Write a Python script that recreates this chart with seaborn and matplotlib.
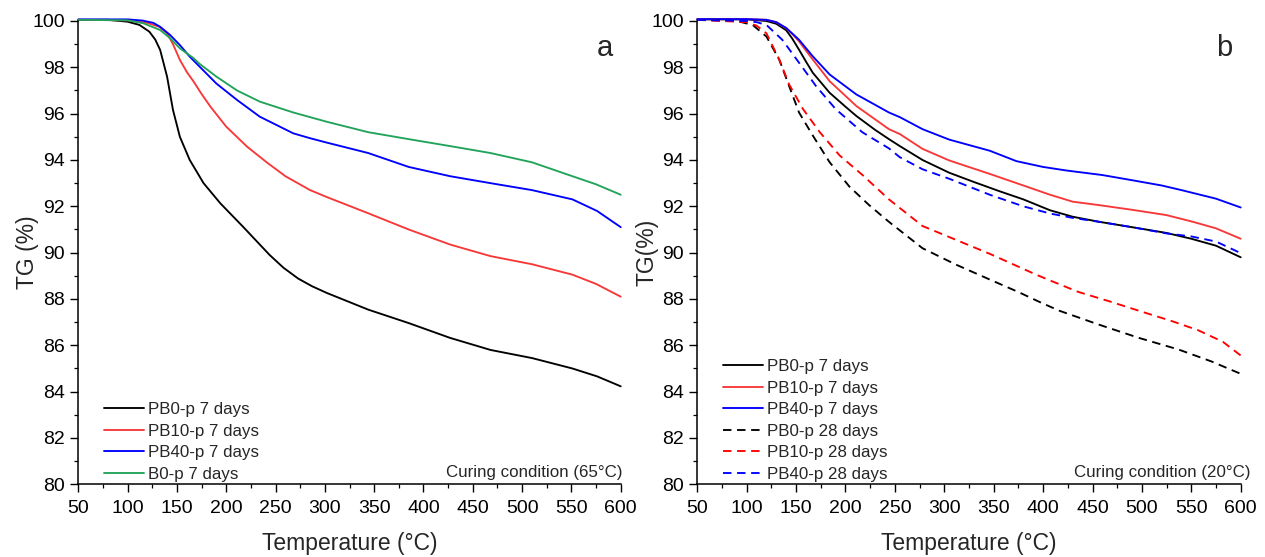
import numpy as np
import pandas as pd
import matplotlib
matplotlib.use("Agg")
import matplotlib.pyplot as plt
from matplotlib.ticker import MultipleLocator, AutoMinorLocator
import seaborn as sns

# ---------------- data: panel a (65 C curing) ----------------
a_pb0_T = [50, 80, 100, 112, 122, 128, 133, 140, 146, 153, 163, 177, 194, 217, 244, 258, 273, 287, 302, 344, 385, 427, 468, 510, 551, 576, 600]
a_pb0_v = [100.05, 100.05, 99.97, 99.83, 99.54, 99.2, 98.75, 97.6, 96.16, 95.0, 94.0, 93.0, 92.13, 91.12, 89.9, 89.35, 88.88, 88.55, 88.26, 87.54, 86.96, 86.32, 85.8, 85.45, 85.0, 84.66, 84.23]

a_pb10_T = [50, 100, 120, 132, 140, 146, 153, 160, 167, 175, 184, 200, 221, 241, 260, 285, 302, 344, 385, 427, 468, 510, 551, 575, 600]
a_pb10_v = [100.05, 100.03, 99.92, 99.75, 99.47, 99.0, 98.32, 97.8, 97.38, 96.85, 96.3, 95.44, 94.58, 93.9, 93.3, 92.7, 92.4, 91.7, 91.0, 90.35, 89.85, 89.5, 89.05, 88.65, 88.1]

a_pb40_T = [50, 100, 115, 126, 133, 143, 153, 163, 173, 190, 211, 234, 268, 285, 302, 344, 385, 427, 468, 510, 551, 576, 600]
a_pb40_v = [100.07, 100.07, 100.02, 99.92, 99.75, 99.4, 98.96, 98.46, 98.03, 97.3, 96.59, 95.87, 95.15, 94.94, 94.75, 94.3, 93.7, 93.3, 93.0, 92.7, 92.3, 91.8, 91.1]

a_b0_T = [50, 100, 116, 133, 143, 153, 167, 173, 190, 211, 234, 268, 285, 302, 344, 385, 427, 468, 510, 551, 575, 600]
a_b0_v = [100.05, 100.03, 99.9, 99.61, 99.26, 98.82, 98.39, 98.15, 97.6, 97.0, 96.52, 96.05, 95.85, 95.65, 95.2, 94.9, 94.6, 94.3, 93.9, 93.3, 92.95, 92.5]

# ---------------- data: panel b (20 C curing) ----------------
b_pb0_7_T = [50, 100, 120, 130, 140, 146, 153, 160, 167, 184, 200, 211, 230, 244, 255, 278, 305, 330, 356, 380, 407, 430, 457, 490, 525, 550, 575, 600]
b_pb0_7_v = [100.07, 100.07, 100.0, 99.88, 99.6, 99.25, 98.76, 98.25, 97.76, 96.9, 96.3, 95.9, 95.3, 94.9, 94.6, 94.0, 93.45, 93.05, 92.65, 92.3, 91.83, 91.55, 91.33, 91.1, 90.85, 90.6, 90.3, 89.8]

b_pb10_7_T = [50, 100, 120, 130, 140, 146, 153, 167, 184, 211, 244, 255, 278, 305, 346, 380, 407, 430, 457, 490, 525, 550, 575, 600]
b_pb10_7_v = [100.08, 100.08, 100.05, 99.95, 99.68, 99.45, 99.12, 98.33, 97.4, 96.33, 95.33, 95.12, 94.48, 93.98, 93.4, 92.9, 92.5, 92.2, 92.05, 91.85, 91.62, 91.35, 91.05, 90.6]

b_pb40_7_T = [50, 100, 120, 130, 140, 153, 167, 184, 211, 244, 255, 278, 305, 346, 373, 400, 423, 460, 491, 520, 541, 575, 600]
b_pb40_7_v = [100.08, 100.08, 100.05, 99.95, 99.7, 99.19, 98.47, 97.69, 96.83, 96.05, 95.85, 95.33, 94.88, 94.4, 93.95, 93.7, 93.55, 93.35, 93.12, 92.9, 92.69, 92.33, 91.95]

b_pb0_28_T = [50, 90, 106, 120, 133, 143, 153, 167, 184, 204, 224, 244, 278, 312, 346, 375, 396, 416, 456, 497, 537, 570, 600]
b_pb0_28_v = [100.05, 100.0, 99.83, 99.33, 98.33, 97.19, 96.05, 95.05, 93.9, 92.85, 92.05, 91.33, 90.19, 89.48, 88.84, 88.3, 87.88, 87.5, 86.9, 86.32, 85.82, 85.31, 84.77]

b_pb10_28_T = [50, 100, 110, 120, 133, 143, 157, 174, 194, 217, 244, 278, 312, 346, 393, 407, 436, 467, 500, 530, 557, 582, 600]
b_pb10_28_v = [100.05, 99.95, 99.8, 99.47, 98.33, 97.26, 96.2, 95.2, 94.2, 93.36, 92.3, 91.15, 90.55, 89.95, 89.05, 88.8, 88.3, 87.9, 87.45, 87.05, 86.65, 86.15, 85.56]

b_pb40_28_T = [50, 100, 110, 120, 136, 153, 170, 190, 217, 244, 255, 278, 305, 346, 380, 407, 430, 457, 490, 525, 550, 575, 600]
b_pb40_28_v = [100.05, 100.0, 99.95, 99.83, 99.19, 98.2, 97.2, 96.2, 95.2, 94.5, 94.12, 93.6, 93.19, 92.5, 92.0, 91.69, 91.5, 91.33, 91.1, 90.83, 90.7, 90.48, 89.98]

labels_a = ["PB0-p 7 days", "PB10-p 7 days", "PB40-p 7 days", "B0-p 7 days"]
labels_b = ["PB0-p 7 days", "PB10-p 7 days", "PB40-p 7 days",
            "PB0-p 28 days", "PB10-p 28 days", "PB40-p 28 days"]

x_ticks = list(range(50, 601, 50))
y_ticks = list(range(80, 101, 2))

# ---------------- styling ----------------
sns.set_style("ticks")
plt.rcParams["font.family"] = ["Liberation Sans", "DejaVu Sans"]

BLACK = "#000000"
RED = "#f83838"
RED_D = "#ff0000"
BLUE = "#0000ff"
GREEN = "#22a35a"
DASH = (0, (4.5, 3))
LW = 1.35

fig = plt.figure(figsize=(12.65, 5.57), dpi=100)
axA = fig.add_axes([0.0619, 0.1305, 0.4288, 0.8318])
axB = fig.add_axes([0.5512, 0.1305, 0.4296, 0.8318])

series_a = [
    (a_pb0_T, a_pb0_v, BLACK, "-"),
    (a_pb10_T, a_pb10_v, RED, "-"),
    (a_pb40_T, a_pb40_v, BLUE, "-"),
    (a_b0_T, a_b0_v, GREEN, "-"),
]
series_b = [
    (b_pb0_7_T, b_pb0_7_v, BLACK, "-"),
    (b_pb10_7_T, b_pb10_7_v, RED, "-"),
    (b_pb40_7_T, b_pb40_7_v, BLUE, "-"),
    (b_pb0_28_T, b_pb0_28_v, BLACK, DASH),
    (b_pb10_28_T, b_pb10_28_v, RED_D, DASH),
    (b_pb40_28_T, b_pb40_28_v, BLUE, DASH),
]


def draw(ax, series, labels):
    for (T, v, c, ls), lab in zip(series, labels):
        df = pd.DataFrame({"T": T, "TG": v})
        sns.lineplot(data=df, x="T", y="TG", ax=ax, color=c, linestyle=ls,
                     linewidth=LW, estimator=None, sort=False, label=lab,
                     clip_on=False)


draw(axA, series_a, labels_a)
draw(axB, series_b, labels_b)

for ax in (axA, axB):
    ax.set_xlim(50, 600)
    ax.set_ylim(80, 100)
    ax.set_xticks(x_ticks)
    ax.set_yticks(y_ticks)
    ax.xaxis.set_minor_locator(AutoMinorLocator(2))
    ax.yaxis.set_minor_locator(AutoMinorLocator(2))
    for s in ("top", "right"):
        ax.spines[s].set_visible(False)
    for s in ("left", "bottom"):
        ax.spines[s].set_linewidth(1.1)
        ax.spines[s].set_color("black")
    ax.tick_params(which="major", direction="out", length=5.5, width=1.0,
                   labelsize=14, colors="black", pad=4)
    ax.tick_params(axis="x", which="major", pad=5.5)
    ax.tick_params(which="minor", direction="out", length=3, width=0.9,
                   colors="black")
    ax.set_xlabel("Temperature (\u00b0C)", fontsize=16.5, labelpad=11)
    ax.grid(False)

axA.set_ylabel("TG (%)", fontsize=16.5, labelpad=-5)
axB.set_ylabel("TG(%)", fontsize=16.5, labelpad=-5)

axA.text(0.985, 0.942, "a", transform=axA.transAxes, ha="right", va="center",
         fontsize=21)
axB.text(0.985, 0.942, "b", transform=axB.transAxes, ha="right", va="center",
         fontsize=21)

axA.text(1.003, 0.025, "Curing condition (65\u00b0C)", transform=axA.transAxes,
         ha="right", va="center", fontsize=12.2)
axB.text(1.018, 0.025, "Curing condition (20\u00b0C)", transform=axB.transAxes,
         ha="right", va="center", fontsize=12.2)

for ax in (axA, axB):
    ax.legend(loc="lower left", bbox_to_anchor=(0.047, 0.006), frameon=False,
              fontsize=12.2, handlelength=2.35, handletextpad=0.24,
              borderpad=0, borderaxespad=0, labelspacing=0.38)

fig.savefig("out.png", dpi=100, facecolor="white")
